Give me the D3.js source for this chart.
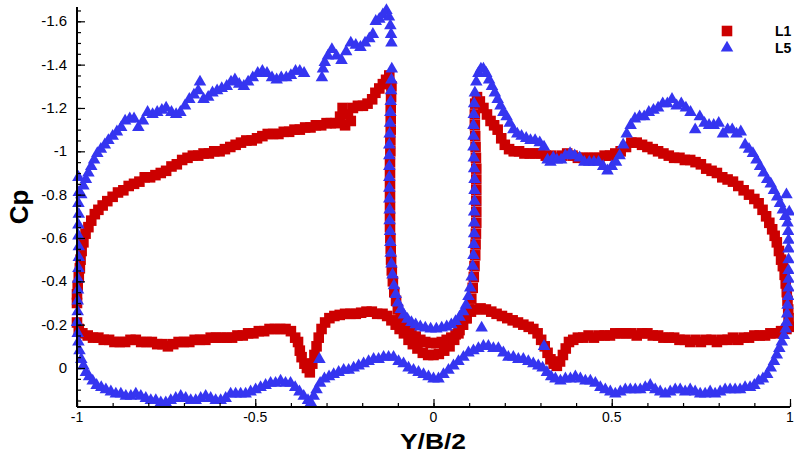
<!DOCTYPE html>
<html><head><meta charset="utf-8">
<script src="https://cdn.jsdelivr.net/npm/d3@7"></script>
<style>html,body{margin:0;padding:0;background:#fff;}svg{display:block;}</style>
</head><body>
<script>
// ---- data: [Y/B/2, Cp] ----
const l1Upper = [[-1.000,-0.30],[-1.000,-0.34],[-0.998,-0.38],[-0.995,-0.42],[-0.992,-0.46],[-0.990,-0.50],[-0.987,-0.54],[-0.982,-0.58],[-0.976,-0.62],[-0.968,-0.65],[-0.960,-0.68],[-0.950,-0.71],[-0.940,-0.73],[-0.928,-0.75],[-0.915,-0.77],[-0.900,-0.79],[-0.885,-0.81],[-0.870,-0.82],[-0.855,-0.84],[-0.840,-0.85],[-0.825,-0.86],[-0.810,-0.88],[-0.795,-0.88],[-0.780,-0.89],[-0.765,-0.90],[-0.750,-0.91],[-0.735,-0.93],[-0.720,-0.94],[-0.705,-0.96],[-0.690,-0.97],[-0.675,-0.98],[-0.660,-0.98],[-0.645,-0.99],[-0.630,-0.99],[-0.615,-1.00],[-0.600,-1.00],[-0.585,-1.01],[-0.570,-1.02],[-0.555,-1.03],[-0.540,-1.04],[-0.525,-1.05],[-0.510,-1.05],[-0.495,-1.06],[-0.480,-1.07],[-0.465,-1.08],[-0.450,-1.08],[-0.435,-1.08],[-0.420,-1.09],[-0.405,-1.09],[-0.390,-1.10],[-0.375,-1.10],[-0.360,-1.11],[-0.345,-1.11],[-0.330,-1.12],[-0.315,-1.12],[-0.300,-1.13],[-0.288,-1.13],[-0.275,-1.13],[-0.262,-1.16],[-0.255,-1.20],[-0.248,-1.12],[-0.240,-1.17],[-0.232,-1.14],[-0.226,-1.20],[-0.212,-1.21],[-0.198,-1.21],[-0.185,-1.22],[-0.172,-1.24],[-0.163,-1.27],[-0.152,-1.29],[-0.142,-1.31],[-0.133,-1.33],[-0.124,-1.35],
[-0.118,-1.30],[-0.119,-1.25],[-0.120,-1.20],[-0.120,-1.15],[-0.120,-1.10],[-0.121,-1.05],[-0.121,-1.00],[-0.122,-0.95],[-0.122,-0.90],[-0.122,-0.85],[-0.122,-0.80],[-0.122,-0.75],[-0.122,-0.70],[-0.122,-0.65],[-0.121,-0.60],[-0.120,-0.55],[-0.119,-0.50],[-0.117,-0.45],[-0.114,-0.40],[-0.110,-0.35],[-0.105,-0.31],
[-0.100,-0.27],[-0.092,-0.235],[-0.083,-0.205],[-0.073,-0.18],[-0.062,-0.16],[-0.050,-0.145],[-0.037,-0.13],[-0.023,-0.12],[-0.008,-0.115],[0.008,-0.115],[0.023,-0.12],[0.037,-0.13],[0.050,-0.14],[0.062,-0.155],[0.073,-0.175],[0.083,-0.20],[0.092,-0.23],[0.100,-0.27],[0.106,-0.32],[0.110,-0.37],[0.113,-0.42],
[0.115,-0.47],[0.117,-0.52],[0.118,-0.57],[0.119,-0.62],[0.120,-0.67],[0.120,-0.72],[0.120,-0.77],[0.120,-0.82],[0.120,-0.87],[0.120,-0.92],[0.119,-0.97],[0.118,-1.02],[0.117,-1.07],[0.116,-1.12],[0.116,-1.17],[0.117,-1.22],[0.122,-1.25],
[0.130,-1.23],[0.140,-1.20],[0.150,-1.17],[0.160,-1.14],[0.170,-1.12],[0.180,-1.10],[0.190,-1.06],[0.200,-1.03],[0.212,-1.01],[0.225,-1.00],[0.240,-1.00],[0.255,-0.99],[0.270,-0.99],[0.285,-0.99],[0.300,-0.99],[0.315,-0.98],[0.330,-0.98],[0.345,-0.97],[0.360,-0.98],[0.375,-0.99],[0.390,-0.98],[0.405,-0.97],[0.420,-0.97],[0.435,-0.97],[0.450,-0.97],[0.465,-0.97],[0.480,-0.98],[0.495,-0.98],[0.510,-0.99],[0.525,-1.00],[0.540,-1.02],[0.555,-1.04],[0.570,-1.04],[0.585,-1.03],[0.600,-1.02],[0.615,-1.01],[0.630,-1.00],[0.645,-0.99],[0.660,-0.98],[0.675,-0.97],[0.690,-0.97],[0.705,-0.96],[0.720,-0.96],[0.735,-0.95],[0.750,-0.94],[0.765,-0.92],[0.780,-0.91],[0.795,-0.90],[0.810,-0.88],[0.825,-0.87],[0.840,-0.86],[0.855,-0.84],[0.870,-0.82],[0.885,-0.80],[0.900,-0.78],[0.912,-0.76],[0.923,-0.73],[0.933,-0.70],[0.942,-0.67],[0.950,-0.64],[0.957,-0.61],[0.963,-0.58],[0.969,-0.54],[0.975,-0.50],[0.980,-0.47],[0.985,-0.43],[0.988,-0.39],[0.991,-0.35],[0.993,-0.31],[0.995,-0.27],[0.996,-0.23]];

const l1Lower = [[-1.000,-0.21],[-0.995,-0.18],[-0.985,-0.16],[-0.970,-0.15],[-0.955,-0.14],[-0.940,-0.14],[-0.925,-0.13],[-0.910,-0.13],[-0.895,-0.12],[-0.880,-0.12],[-0.865,-0.12],[-0.850,-0.13],[-0.835,-0.13],[-0.820,-0.12],[-0.805,-0.12],[-0.790,-0.12],[-0.775,-0.11],[-0.760,-0.11],[-0.745,-0.10],[-0.730,-0.11],[-0.715,-0.12],[-0.700,-0.12],[-0.685,-0.12],[-0.670,-0.13],[-0.655,-0.13],[-0.640,-0.13],[-0.625,-0.14],[-0.610,-0.14],[-0.595,-0.14],[-0.580,-0.14],[-0.565,-0.14],[-0.550,-0.15],[-0.535,-0.15],[-0.520,-0.16],[-0.505,-0.16],[-0.490,-0.17],[-0.475,-0.17],[-0.460,-0.18],[-0.445,-0.18],[-0.430,-0.18],[-0.415,-0.18],[-0.400,-0.17],[-0.388,-0.14],[-0.380,-0.12],[-0.375,-0.08],[-0.370,-0.05],[-0.362,-0.02],[-0.355,0.00],[-0.347,0.02],[-0.340,-0.02],[-0.334,-0.06],[-0.328,-0.10],[-0.322,-0.14],[-0.314,-0.18],[-0.304,-0.21],[-0.292,-0.23],[-0.278,-0.24],[-0.263,-0.245],[-0.248,-0.25],[-0.233,-0.25],[-0.218,-0.25],[-0.203,-0.255],[-0.188,-0.26],[-0.173,-0.26],[-0.158,-0.25],[-0.143,-0.25],[-0.130,-0.24],[-0.118,-0.22],[-0.106,-0.20],[-0.095,-0.18],[-0.083,-0.16],[-0.070,-0.13],[-0.058,-0.11],[-0.045,-0.09],[-0.030,-0.07],[-0.015,-0.06],[0.000,-0.06],[0.015,-0.065],[0.030,-0.08],[0.045,-0.10],[0.058,-0.13],[0.070,-0.16],[0.082,-0.20],[0.093,-0.23],[0.105,-0.26],[0.118,-0.27],[0.132,-0.275],[0.147,-0.27],[0.162,-0.26],[0.177,-0.25],[0.192,-0.24],[0.207,-0.23],[0.222,-0.22],[0.237,-0.21],[0.252,-0.20],[0.267,-0.19],[0.280,-0.18],[0.292,-0.16],[0.302,-0.13],[0.312,-0.10],[0.320,-0.07],[0.328,-0.04],[0.337,-0.02],[0.346,-0.01],[0.355,-0.03],[0.363,-0.06],[0.371,-0.09],[0.380,-0.12],[0.392,-0.13],[0.405,-0.14],[0.420,-0.14],[0.435,-0.15],[0.450,-0.14],[0.465,-0.15],[0.480,-0.15],[0.495,-0.15],[0.510,-0.16],[0.525,-0.16],[0.540,-0.16],[0.555,-0.16],[0.570,-0.15],[0.585,-0.16],[0.600,-0.16],[0.615,-0.15],[0.630,-0.15],[0.645,-0.14],[0.660,-0.14],[0.675,-0.14],[0.690,-0.13],[0.705,-0.13],[0.720,-0.12],[0.735,-0.13],[0.750,-0.12],[0.765,-0.13],[0.780,-0.13],[0.795,-0.12],[0.810,-0.13],[0.825,-0.13],[0.840,-0.14],[0.855,-0.13],[0.870,-0.14],[0.885,-0.14],[0.900,-0.15],[0.915,-0.15],[0.930,-0.15],[0.945,-0.16],[0.960,-0.16],[0.975,-0.17],[0.990,-0.18],[1.000,-0.19]];

const l5Upper = [[-1.000,-0.21],[-0.998,-0.26],[-0.998,-0.31],[-0.997,-0.36],[-0.997,-0.41],[-0.996,-0.46],[-0.995,-0.51],[-0.995,-0.56],[-0.996,-0.61],[-0.996,-0.66],[-0.995,-0.71],[-0.996,-0.76],[-0.995,-0.81],[-0.996,-0.88],[-0.988,-0.80],[-0.982,-0.84],[-0.975,-0.87],[-0.968,-0.90],[-0.960,-0.93],[-0.952,-0.96],[-0.943,-0.99],[-0.933,-1.01],[-0.922,-1.03],[-0.912,-1.05],[-0.900,-1.07],[-0.888,-1.09],[-0.876,-1.11],[-0.865,-1.14],[-0.852,-1.15],[-0.840,-1.15],[-0.828,-1.11],[-0.815,-1.14],[-0.802,-1.18],[-0.788,-1.17],[-0.775,-1.18],[-0.762,-1.19],[-0.750,-1.20],[-0.735,-1.18],[-0.722,-1.17],[-0.710,-1.18],[-0.697,-1.21],[-0.685,-1.24],[-0.672,-1.26],[-0.660,-1.28],[-0.655,-1.32],[-0.645,-1.24],[-0.632,-1.25],[-0.620,-1.27],[-0.607,-1.28],[-0.594,-1.29],[-0.580,-1.30],[-0.568,-1.32],[-0.557,-1.33],[-0.545,-1.31],[-0.532,-1.30],[-0.520,-1.32],[-0.507,-1.34],[-0.493,-1.36],[-0.480,-1.37],[-0.467,-1.36],[-0.453,-1.34],[-0.440,-1.33],[-0.427,-1.34],[-0.413,-1.34],[-0.400,-1.35],[-0.387,-1.37],[-0.375,-1.37],[-0.363,-1.36],
[-0.313,-1.34],[-0.310,-1.38],[-0.305,-1.41],[-0.296,-1.44],[-0.285,-1.47],[-0.272,-1.44],[-0.258,-1.42],[-0.245,-1.46],[-0.232,-1.50],[-0.218,-1.49],[-0.205,-1.48],[-0.192,-1.50],[-0.180,-1.52],[-0.170,-1.54],[-0.162,-1.60],[-0.152,-1.61],[-0.142,-1.63],[-0.132,-1.65],[-0.125,-1.62],[-0.121,-1.58],[-0.119,-1.54],[-0.118,-1.50],
[-0.117,-1.38],[-0.118,-1.33],[-0.119,-1.28],[-0.120,-1.23],[-0.121,-1.18],[-0.122,-1.13],[-0.123,-1.08],[-0.124,-1.03],[-0.124,-0.98],[-0.124,-0.93],[-0.124,-0.88],[-0.124,-0.83],[-0.124,-0.78],[-0.123,-0.73],[-0.123,-0.68],[-0.122,-0.63],[-0.121,-0.58],[-0.120,-0.53],[-0.118,-0.48],[-0.115,-0.43],[-0.111,-0.38],[-0.106,-0.34],[-0.100,-0.30],[-0.092,-0.27],[-0.083,-0.245],[-0.073,-0.225],[-0.062,-0.21],[-0.050,-0.20],[-0.037,-0.19],[-0.023,-0.185],[-0.008,-0.18],[0.008,-0.18],[0.023,-0.185],[0.037,-0.19],[0.050,-0.20],[0.062,-0.215],[0.073,-0.235],[0.083,-0.26],[0.091,-0.29],[0.098,-0.33],[0.103,-0.37],[0.107,-0.42],[0.110,-0.47],[0.112,-0.52],[0.113,-0.57],[0.114,-0.62],[0.114,-0.67],[0.114,-0.72],[0.115,-0.77],[0.115,-0.82],[0.115,-0.87],[0.114,-0.92],[0.113,-0.97],[0.112,-1.02],[0.112,-1.07],[0.112,-1.12],[0.113,-1.17],[0.114,-1.22],[0.116,-1.27],[0.120,-1.32],[0.126,-1.36],[0.133,-1.38],[0.140,-1.38],[0.148,-1.36],[0.156,-1.33],[0.164,-1.30],[0.172,-1.27],[0.180,-1.24],[0.188,-1.21],[0.196,-1.18],[0.205,-1.16],[0.214,-1.13],[0.224,-1.10],[0.235,-1.08],[0.247,-1.07],[0.260,-1.06],[0.272,-1.05],[0.285,-1.05],[0.298,-1.04],[0.310,-1.02],[0.320,-0.96],[0.328,-0.95],[0.336,-0.97],[0.346,-0.96],[0.358,-0.96],[0.370,-0.98],[0.383,-0.99],[0.396,-0.98],[0.410,-0.97],[0.423,-0.95],[0.437,-0.95],[0.450,-0.95],[0.463,-0.95],[0.476,-0.93],[0.488,-0.91],[0.500,-0.93],[0.512,-0.95],[0.522,-0.98],[0.532,-1.03],[0.542,-1.08],[0.553,-1.12],[0.565,-1.15],[0.578,-1.16],[0.591,-1.16],[0.604,-1.18],[0.617,-1.19],[0.630,-1.20],[0.643,-1.22],[0.656,-1.22],[0.669,-1.24],[0.682,-1.21],[0.695,-1.22],[0.708,-1.20],[0.721,-1.18],[0.734,-1.10],[0.747,-1.16],[0.760,-1.13],[0.773,-1.12],[0.786,-1.12],[0.800,-1.13],[0.812,-1.08],[0.825,-1.10],[0.838,-1.10],[0.850,-1.08],[0.862,-1.09],[0.874,-1.03],[0.885,-1.01],[0.896,-0.99],[0.906,-0.96],[0.916,-0.93],[0.926,-0.90],[0.936,-0.87],[0.946,-0.85],[0.955,-0.82],[0.964,-0.79],[0.972,-0.76],[0.980,-0.73],[0.987,-0.70],[0.990,-0.80],[0.998,-0.72],[0.993,-0.67],[0.995,-0.63],[0.996,-0.59],[0.996,-0.55],[0.996,-0.50],[0.996,-0.45],[0.996,-0.41],[0.996,-0.37],[0.995,-0.33],[0.993,-0.29],[0.992,-0.25],[0.990,-0.21]];

const l5Lower = [[-0.998,-0.16],[-0.996,-0.12],[-0.993,-0.08],[-0.988,-0.04],[-0.982,-0.01],[-0.975,0.02],[-0.966,0.04],[-0.956,0.06],[-0.945,0.08],[-0.932,0.09],[-0.919,0.10],[-0.905,0.11],[-0.891,0.12],[-0.877,0.12],[-0.863,0.13],[-0.849,0.13],[-0.835,0.12],[-0.821,0.13],[-0.807,0.14],[-0.793,0.15],[-0.779,0.15],[-0.765,0.16],[-0.751,0.16],[-0.737,0.15],[-0.723,0.14],[-0.709,0.13],[-0.695,0.14],[-0.681,0.15],[-0.667,0.15],[-0.653,0.14],[-0.639,0.13],[-0.625,0.14],[-0.611,0.15],[-0.597,0.15],[-0.583,0.14],[-0.569,0.12],[-0.555,0.12],[-0.541,0.12],[-0.527,0.12],[-0.513,0.11],[-0.499,0.10],[-0.485,0.09],[-0.471,0.08],[-0.457,0.07],[-0.443,0.07],[-0.429,0.06],[-0.415,0.07],[-0.401,0.07],[-0.388,0.09],[-0.376,0.11],[-0.364,0.13],[-0.352,0.15],[-0.344,0.16],[-0.336,0.13],[-0.328,0.10],[-0.318,0.07],[-0.306,0.05],[-0.293,0.04],[-0.280,0.03],[-0.266,0.02],[-0.252,0.01],[-0.238,0.01],[-0.224,0.00],[-0.210,-0.01],[-0.196,-0.02],[-0.182,-0.03],[-0.168,-0.04],[-0.154,-0.04],[-0.140,-0.05],[-0.126,-0.05],[-0.112,-0.05],[-0.098,-0.03],[-0.084,-0.02],[-0.070,0.00],[-0.056,0.01],[-0.042,0.02],[-0.028,0.03],[-0.014,0.04],[0.000,0.05],[0.014,0.05],[0.028,0.03],[0.042,0.01],[0.056,-0.01],[0.070,-0.03],[0.084,-0.05],[0.098,-0.07],[0.112,-0.08],[0.126,-0.09],[0.140,-0.10],[0.154,-0.10],[0.168,-0.09],[0.182,-0.09],[0.196,-0.07],[0.210,-0.05],[0.224,-0.05],[0.238,-0.04],[0.252,-0.04],[0.266,-0.03],[0.280,-0.02],[0.294,-0.01],[0.306,0.00],[0.318,0.02],[0.330,0.04],[0.342,0.05],[0.356,0.06],[0.370,0.05],[0.384,0.05],[0.398,0.04],[0.412,0.05],[0.426,0.06],[0.440,0.06],[0.454,0.07],[0.468,0.09],[0.482,0.10],[0.496,0.11],[0.510,0.12],[0.524,0.11],[0.538,0.10],[0.552,0.10],[0.566,0.10],[0.580,0.10],[0.594,0.09],[0.608,0.08],[0.622,0.10],[0.636,0.11],[0.650,0.12],[0.664,0.11],[0.678,0.10],[0.692,0.10],[0.706,0.11],[0.720,0.10],[0.734,0.11],[0.748,0.12],[0.762,0.12],[0.776,0.11],[0.790,0.12],[0.804,0.11],[0.818,0.10],[0.832,0.10],[0.846,0.10],[0.860,0.10],[0.874,0.09],[0.888,0.09],[0.900,0.08],[0.912,0.06],[0.924,0.05],[0.936,0.03],[0.946,0.00],[0.955,-0.03],[0.963,-0.06],[0.970,-0.09],[0.977,-0.12],[0.983,-0.15],[0.988,-0.18],
[0.135,-0.185],[0.310,-0.10],[-0.320,-0.04]];

const seriesNames = ["L1", "L5"];
const seriesColors = ["#cc0000", "#3535f0"];
const xTicks = [-1, -0.5, 0, 0.5, 1];
const xTickLabels = ["-1", "-0.5", "0", "0.5", "1"];
const yTicks = [-1.6, -1.4, -1.2, -1, -0.8, -0.6, -0.4, -0.2, 0];
const yTickLabels = ["-1.6", "-1.4", "-1.2", "-1", "-0.8", "-0.6", "-0.4", "-0.2", "0"];
const xTitle = "Y/B/2";
const yTitle = "Cp";

// ---- drawing ----
const W = 794, H = 455;
const svg = d3.select("body").append("svg").attr("width", W).attr("height", H);
const x = d3.scaleLinear().domain([-1, 1]).range([77, 790]);
const y = d3.scaleLinear().domain([-1.666, 0.18]).range([7, 407]);
const font = "'Liberation Sans', Arial, Helvetica, sans-serif";

const sq = d3.symbol().type(d3.symbolSquare).size(112);
const tri = d3.symbol().type(d3.symbolTriangle).size(68);

const plot = svg.append("g");
function drawSeries(data, sym, color) {
  plot.append("g").selectAll("path").data(data).join("path")
    .attr("d", sym)
    .attr("transform", d => `translate(${x(d[0])},${y(d[1])})`)
    .attr("fill", color);
}
drawSeries(l1Upper.concat(l1Lower), sq, seriesColors[0]);
drawSeries(l5Upper.concat(l5Lower), tri, seriesColors[1]);

// axes
const xMinor = d3.range(-10, 11).map(i => i / 10);
const yMinor = d3.range(-33, 4).map(i => i * 0.05).filter(v => v >= -1.666 && v <= 0.18);

const xAxisG = svg.append("g").attr("transform", `translate(0,${y.range()[1]})`);
xAxisG.call(d3.axisTop(x).tickValues(xMinor).tickSize(4).tickFormat(""));
xAxisG.call(g => g.append("g").call(d3.axisTop(x).tickValues(xTicks).tickSize(8).tickFormat("")));
xAxisG.selectAll(".domain").remove();
xAxisG.selectAll("line").attr("stroke", "#000").attr("stroke-width", 1.2);

const yAxisG = svg.append("g").attr("transform", `translate(${x.range()[0]},0)`);
yAxisG.call(d3.axisRight(y).tickValues(yMinor).tickSize(4).tickFormat(""));
yAxisG.call(g => g.append("g").call(d3.axisRight(y).tickValues(yTicks).tickSize(8).tickFormat("")));
yAxisG.selectAll(".domain").remove();
yAxisG.selectAll("line").attr("stroke", "#000").attr("stroke-width", 1.2);

svg.append("line").attr("x1", x.range()[0]).attr("x2", x.range()[1])
  .attr("y1", y.range()[1]).attr("y2", y.range()[1]).attr("stroke", "#000").attr("stroke-width", 2);
svg.append("line").attr("x1", x.range()[0]).attr("x2", x.range()[0])
  .attr("y1", y.range()[0]).attr("y2", y.range()[1]).attr("stroke", "#000").attr("stroke-width", 2);

// tick labels
svg.append("g").selectAll("text").data(xTicks).join("text")
  .attr("x", d => x(d)).attr("y", 422)
  .attr("text-anchor", "middle").attr("font-family", font).attr("font-size", 14)
  .text((d, i) => xTickLabels[i]);
svg.append("g").selectAll("text").data(yTicks).join("text")
  .attr("x", 67).attr("y", d => y(d) + 5)
  .attr("text-anchor", "end").attr("font-family", font).attr("font-size", 15)
  .text((d, i) => yTickLabels[i]);

// titles
svg.append("text").attr("transform", "translate(433,449) scale(1.2,1)").attr("text-anchor", "middle")
  .attr("font-family", font).attr("font-weight", "bold").attr("font-size", 22).text(xTitle);
svg.append("text").attr("transform", "translate(28,207) rotate(-90)").attr("text-anchor", "middle")
  .attr("font-family", font).attr("font-weight", "bold").attr("font-size", 26).text(yTitle);

// legend
const leg = svg.append("g");
leg.append("path").attr("d", sq).attr("transform", "translate(727,31)").attr("fill", seriesColors[0]);
leg.append("path").attr("d", tri).attr("transform", "translate(727,48)").attr("fill", seriesColors[1]);
leg.append("text").attr("x", 775).attr("y", 36).attr("font-family", font).attr("font-weight", "bold").attr("font-size", 14).text(seriesNames[0]);
leg.append("text").attr("x", 775).attr("y", 53).attr("font-family", font).attr("font-weight", "bold").attr("font-size", 14).text(seriesNames[1]);
</script>
</body></html>
